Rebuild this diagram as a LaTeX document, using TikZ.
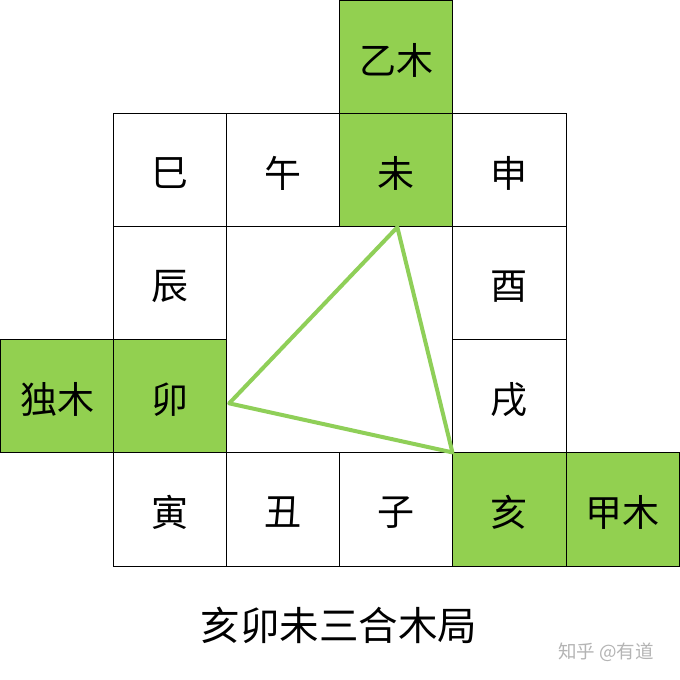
\documentclass[tikz,border=0pt]{standalone}
\usepackage{fontspec}
\newfontfamily\cjk{Noto Sans CJK SC}
\definecolor{wood}{HTML}{92D050}
\definecolor{tri}{HTML}{8FCF58}
\definecolor{mark}{HTML}{B4B4B4}
\tikzset{
  cell/.style={draw=black, line width=1pt, minimum width=113.1pt, minimum height=113.1pt, inner sep=0pt, fill=white},
  woodcell/.style={cell, fill=wood},
  lbl/.style={inner sep=0pt, font=\cjk\fontsize{37}{42}\selectfont},
  triline/.style={draw=tri, line width=4pt, line join=round}
}
\newcommand{\cx}[1]{57.05+113.1*#1}
\begin{document}
\begin{tikzpicture}[x=1pt,y=-1pt]
\useasboundingbox (0,0) rectangle (680,680);
\fill[white] (0,0) rectangle (680,680);
% row 0
\node[woodcell] (c03) at ({\cx{3}},{\cx{0}}) {};
% row 1
\node[cell] (c11) at ({\cx{1}},{\cx{1}}) {};
\node[cell] (c12) at ({\cx{2}},{\cx{1}}) {};
\node[woodcell] (c13) at ({\cx{3}},{\cx{1}}) {};
\node[cell] (c14) at ({\cx{4}},{\cx{1}}) {};
% row 2
\node[cell] (c21) at ({\cx{1}},{\cx{2}}) {};
\node[cell] (c24) at ({\cx{4}},{\cx{2}}) {};
% row 3
\node[woodcell] (c30) at ({\cx{0}},{\cx{3}}) {};
\node[woodcell] (c31) at ({\cx{1}},{\cx{3}}) {};
\node[cell] (c34) at ({\cx{4}},{\cx{3}}) {};
% row 4
\node[cell] (c41) at ({\cx{1}},{\cx{4}}) {};
\node[cell] (c42) at ({\cx{2}},{\cx{4}}) {};
\node[cell] (c43) at ({\cx{3}},{\cx{4}}) {};
\node[woodcell] (c44) at ({\cx{4}},{\cx{4}}) {};
\node[woodcell] (c45) at ({\cx{5}},{\cx{4}}) {};
% labels
\node[lbl] (t03) at ([yshift=-3pt]c03.center) {乙木};
\node[lbl] (t11) at ([yshift=-3pt]c11.center) {巳};
\node[lbl] (t12) at ([yshift=-3pt]c12.center) {午};
\node[lbl] (t13) at ([yshift=-3pt]c13.center) {未};
\node[lbl] (t14) at ([yshift=-3pt]c14.center) {申};
\node[lbl] (t21) at ([yshift=-3pt]c21.center) {辰};
\node[lbl] (t24) at ([yshift=-3pt]c24.center) {酉};
\node[lbl] (t30) at ([yshift=-3pt]c30.center) {独木};
\node[lbl] (t31) at ([yshift=-3pt]c31.center) {卯};
\node[lbl] (t34) at ([yshift=-3pt]c34.center) {戌};
\node[lbl] (t41) at ([yshift=-3pt]c41.center) {寅};
\node[lbl] (t42) at ([yshift=-3pt]c42.center) {丑};
\node[lbl] (t43) at ([yshift=-3pt]c43.center) {子};
\node[lbl] (t44) at ([yshift=-3pt]c44.center) {亥};
\node[lbl] (t45) at ([yshift=-3pt]c45.center) {甲木};
% triangle
\coordinate (tA) at ([xshift=1pt]c13.south);
\coordinate (tB) at ([xshift=2pt,yshift=-7pt]c31.east);
\coordinate (tC) at (c44.north west);
\draw[triline] (tA) -- (tB) -- (tC) -- cycle;
% title
\node[font=\cjk\fontsize{39.5}{44}\selectfont, inner sep=0pt] (title) at (339,625) {亥卯未三合木局};
\node[font=\cjk\fontsize{18.5}{22}\selectfont, text=mark, inner sep=0pt] (wm) at (606,652) {知乎 @有道};
\end{tikzpicture}
\end{document}
